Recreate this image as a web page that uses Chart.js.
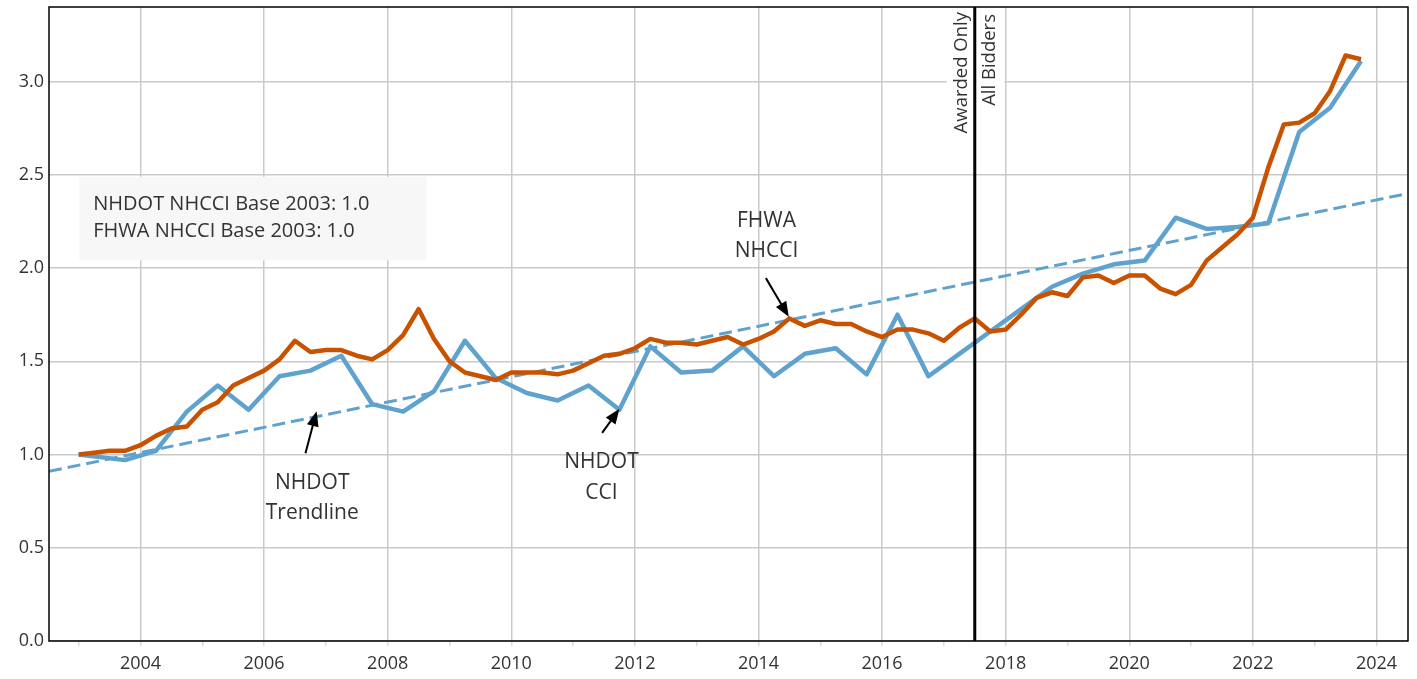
<!DOCTYPE html>
<html><head><meta charset="utf-8">
<script src="https://cdn.jsdelivr.net/npm/chart.js@4.4.0/dist/chart.umd.min.js"></script>
<style>html,body{margin:0;padding:0;background:#fff;}canvas{display:block;}</style>
</head><body>
<canvas id="c" width="1417" height="679"></canvas>
<script>
// ---- Data ----
const fhwaStartYear = 2003; // quarterly series, first quarter plotted at 2003.0
const fhwaValues = [
  1.00, 1.01, 1.02, 1.02,
  1.05, 1.10, 1.14, 1.15,
  1.24, 1.28, 1.37, 1.41,
  1.45, 1.51, 1.61, 1.55,
  1.56, 1.56, 1.53, 1.51,
  1.56, 1.64, 1.78, 1.62,
  1.50, 1.44, 1.42, 1.40,
  1.44, 1.44, 1.44, 1.43,
  1.45, 1.49, 1.53, 1.54,
  1.57, 1.62, 1.60, 1.60,
  1.59, 1.61, 1.63, 1.59,
  1.62, 1.66, 1.73, 1.69,
  1.72, 1.70, 1.70, 1.66,
  1.63, 1.67, 1.67, 1.65,
  1.61, 1.68, 1.73, 1.66,
  1.67, 1.75, 1.84, 1.87,
  1.85, 1.95, 1.96, 1.92,
  1.96, 1.96, 1.89, 1.86,
  1.91, 2.04, 2.11, 2.18,
  2.27, 2.54, 2.77, 2.78,
  2.83, 2.95, 3.14, 3.12
];
const nhdotYears = [
  2003.00, 2003.75,
  2004.25, 2004.75, 2005.25, 2005.75, 2006.25, 2006.75, 2007.25, 2007.75,
  2008.25, 2008.75, 2009.25, 2009.75, 2010.25, 2010.75, 2011.25, 2011.75,
  2012.25, 2012.75, 2013.25, 2013.75, 2014.25, 2014.75, 2015.25, 2015.75,
  2016.25, 2016.75, 2017.25, 2017.75, 2018.25, 2018.75, 2019.25, 2019.75,
  2020.25, 2020.75, 2021.25, 2021.75, 2022.25, 2022.75, 2023.25, 2023.75
];
const nhdotValues = [
  1.00, 0.97,
  1.02, 1.23, 1.37, 1.24, 1.42, 1.45, 1.53, 1.27,
  1.23, 1.34, 1.61, 1.41, 1.33, 1.29, 1.37, 1.24,
  1.58, 1.44, 1.45, 1.58, 1.42, 1.54, 1.57, 1.43,
  1.75, 1.42, 1.54, 1.66, 1.78, 1.90, 1.97, 2.02,
  2.04, 2.27, 2.21, 2.22, 2.24, 2.73, 2.86, 3.11
];
const trendYears = [2002.52, 2024.51];
const trendValues = [0.91, 2.40];
const xTickYears = [2003,2004,2005,2006,2007,2008,2009,2010,2011,2012,2013,2014,2015,2016,2017,2018,2019,2020,2021,2022,2023,2024];
const xLabelYears = [2004,2006,2008,2010,2012,2014,2016,2018,2020,2022,2024];
const yTickValues = [0, 0.5, 1.0, 1.5, 2.0, 2.5, 3.0];
const breakYear = 2017.5;
const legendLines = ['NHDOT NHCCI Base 2003: 1.0', 'FHWA NHCCI Base 2003: 1.0'];

// ---- Build ----
const fhwaData = fhwaValues.map((v, i) => ({x: fhwaStartYear + i * 0.25, y: v}));
const nhdotData = nhdotYears.map((t, i) => ({x: t, y: nhdotValues[i]}));
const trendData = trendYears.map((t, i) => ({x: t, y: trendValues[i]}));

const FONT = "'Open Sans', 'DejaVu Sans', sans-serif";
const TXT = '#333333';
Chart.defaults.font.family = FONT;

function arrow(ctx, x1, y1, x2, y2) {
  const a = Math.atan2(y2 - y1, x2 - x1);
  const head = 15, w = 6;
  ctx.beginPath();
  ctx.moveTo(x1, y1);
  ctx.lineTo(x2 - head * 0.8 * Math.cos(a), y2 - head * 0.8 * Math.sin(a));
  ctx.stroke();
  ctx.beginPath();
  ctx.moveTo(x2, y2);
  ctx.lineTo(x2 - head * Math.cos(a) + w * Math.sin(a), y2 - head * Math.sin(a) - w * Math.cos(a));
  ctx.lineTo(x2 - head * Math.cos(a) - w * Math.sin(a), y2 - head * Math.sin(a) + w * Math.cos(a));
  ctx.closePath();
  ctx.fill();
}

const annotations = [
  {lines: ['NHDOT', 'Trendline'], tx: 2006.78, ty: [0.845, 0.689], from: [2006.67, 1.007], to: [2006.85, 1.232]},
  {lines: ['NHDOT', 'CCI'], tx: 2011.46, ty: [0.959, 0.796], from: [2011.47, 1.116], to: [2011.75, 1.245]},
  {lines: ['FHWA', 'NHCCI'], tx: 2014.13, ty: [2.253, 2.093], from: [2014.12, 1.946], to: [2014.49, 1.739]}
];

const decorPlugin = {
  id: 'decor',
  beforeDatasetsDraw(chart) {
    const {ctx, scales: {x, y}} = chart;
    ctx.save();
    const bx1 = x.getPixelForValue(2003.01), bx2 = x.getPixelForValue(2008.63);
    const by1 = y.getPixelForValue(2.489), by2 = y.getPixelForValue(2.041);
    ctx.fillStyle = '#f7f7f7';
    ctx.fillRect(bx1, by1, bx2 - bx1, by2 - by1);
    ctx.fillStyle = TXT;
    ctx.font = "20px " + FONT;
    ctx.textAlign = 'left';
    ctx.textBaseline = 'middle';
    ctx.fillText(legendLines[0], bx1 + 14, by1 + 27);
    ctx.fillText(legendLines[1], bx1 + 14, by1 + 54);
    ctx.restore();
  },
  afterDatasetsDraw(chart) {
    const {ctx, chartArea: ca, scales: {x, y}} = chart;
    ctx.save();
    const lx = x.getPixelForValue(breakYear);
    ctx.fillStyle = '#ffffff';
    ctx.fillRect(lx - 28, ca.top + 1, 27, 133);
    ctx.fillRect(lx + 1.5, ca.top + 1, 28, 103);
    ctx.strokeStyle = '#000';
    ctx.lineWidth = 3;
    ctx.beginPath();
    ctx.moveTo(lx, ca.top);
    ctx.lineTo(lx, ca.bottom);
    ctx.stroke();
    ctx.fillStyle = TXT;
    ctx.font = "18.5px " + FONT;
    ctx.textBaseline = 'middle';
    ctx.textAlign = 'right';
    ctx.save();
    ctx.translate(lx - 13, ca.top + 5);
    ctx.rotate(-Math.PI / 2);
    ctx.fillText('Awarded Only', 0, 0);
    ctx.restore();
    ctx.save();
    ctx.translate(lx + 15, ca.top + 7);
    ctx.rotate(-Math.PI / 2);
    ctx.fillText('All Bidders', 0, 0);
    ctx.restore();
    ctx.font = "21px " + FONT;
    ctx.textAlign = 'center';
    ctx.fillStyle = TXT;
    annotations.forEach(a => {
      a.lines.forEach((t, i) => ctx.fillText(t, x.getPixelForValue(a.tx), y.getPixelForValue(a.ty[i])));
    });
    ctx.strokeStyle = '#000';
    ctx.fillStyle = '#000';
    ctx.lineWidth = 2;
    annotations.forEach(a => {
      arrow(ctx, x.getPixelForValue(a.from[0]), y.getPixelForValue(a.from[1]),
                 x.getPixelForValue(a.to[0]), y.getPixelForValue(a.to[1]));
    });
    ctx.strokeStyle = '#000';
    ctx.lineWidth = 1.5;
    ctx.strokeRect(ca.left, ca.top, ca.right - ca.left, ca.bottom - ca.top);
    ctx.restore();
  }
};

new Chart(document.getElementById('c'), {
  type: 'line',
  data: {
    datasets: [
      {label: 'FHWA NHCCI', data: fhwaData, borderColor: '#c85200', borderWidth: 4.5, pointRadius: 0, tension: 0, fill: false, borderJoinStyle: 'round'},
      {label: 'NHDOT CCI', data: nhdotData, borderColor: '#5fa2ce', borderWidth: 4.5, pointRadius: 0, tension: 0, fill: false, borderJoinStyle: 'round'},
      {label: 'NHDOT Trendline', data: trendData, borderColor: '#5fa2ce', borderWidth: 3, borderDash: [13, 6], pointRadius: 0, tension: 0, fill: false}
    ]
  },
  options: {
    responsive: false,
    animation: false,
    devicePixelRatio: 1,
    layout: {padding: {top: 7, right: 9, left: 0, bottom: 0}},
    plugins: {legend: {display: false}, tooltip: {enabled: false}},
    scales: {
      x: {
        type: 'linear', min: 2002.52, max: 2024.51,
        afterBuildTicks: s => { s.ticks = xTickYears.map(v => ({value: v})); },
        afterFit: s => { s.height = 38; s.paddingLeft = 0; s.paddingRight = 0; },
        ticks: {
          autoSkip: false, maxRotation: 0, minRotation: 0, padding: 7, color: TXT,
          font: {size: 18},
          callback: v => xLabelYears.includes(v) ? String(v) : ''
        },
        grid: {
          lineWidth: 1.5,
          color: c => (c.tick && xLabelYears.includes(c.tick.value)) ? '#cacaca' : 'rgba(0,0,0,0)',
          tickColor: '#dcdcdc', tickLength: 5, drawTicks: true
        },
        border: {display: false}
      },
      y: {
        min: 0, max: 3.4,
        afterBuildTicks: s => { s.ticks = yTickValues.map(v => ({value: v})); },
        afterFit: s => { s.width = 49; s.paddingTop = 0; s.paddingBottom = 0; },
        ticks: {padding: 5, color: TXT, font: {size: 18}, callback: v => Number(v).toFixed(1)},
        grid: {color: '#cacaca', lineWidth: 1.5, drawTicks: false},
        border: {display: false}
      }
    }
  },
  plugins: [decorPlugin]
});
</script>
</body></html>
